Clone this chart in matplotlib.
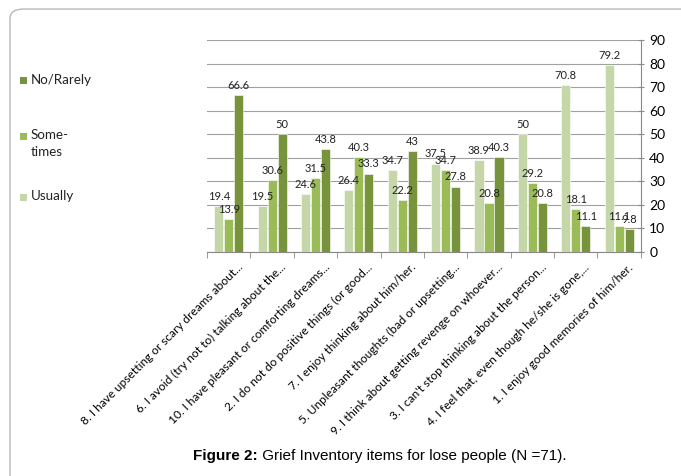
import matplotlib.pyplot as plt
from matplotlib.patches import FancyBboxPatch, Rectangle
from matplotlib.transforms import ScaledTranslation

items = [
    "8. I have upsetting or scary dreams about...",
    "6. I avoid (try not to) talking about the...",
    "10. I have pleasant or comforting dreams...",
    "2. I do not do positive things (or good...",
    "7. I enjoy thinking about him/her.",
    "5. Unpleasant thoughts (bad or upsetting...",
    "9. I think about getting revenge on whoever...",
    "3. I can't stop thinking about the person...",
    "4. I feel that, even though he/she is gone,...",
    "1. I enjoy good memories of him/her.",
]
usually = [19.4, 19.5, 24.6, 26.4, 34.7, 37.5, 38.9, 50, 70.8, 79.2]
sometimes = [13.9, 30.6, 31.5, 40.3, 22.2, 34.7, 20.8, 29.2, 18.1, 11.1]
no_rarely = [66.6, 50, 43.8, 33.3, 43, 27.8, 40.3, 20.8, 11.1, 9.8]

series = [
    ("Usually", usually, "#c5d6a8"),
    ("Some-\ntimes", sometimes, "#9bbb59"),
    ("No/Rarely", no_rarely, "#77933c"),
]

FONT = "Lato"

fig = plt.figure(figsize=(6.81, 4.76), dpi=100)
ax = fig.add_axes([0.304, 0.4706, 0.637, 0.4454])

# outer rounded frame (cut off at right and bottom like the source)
frame = FancyBboxPatch((10 / 681, -0.1), 1.1, 0.981 + 0.1,
                       boxstyle="round,pad=0,rounding_size=0.02",
                       transform=fig.transFigure, fill=False,
                       edgecolor="#b8b8b8", linewidth=1.0)
fig.patches.append(frame)

x = list(range(len(items)))
width = 0.21
offsets = [-0.23, 0.0, 0.23]
for (name, vals, color), off in zip(series, offsets):
    pos = [i + off for i in x]
    ax.bar(pos, vals, width, color=color, edgecolor="white", linewidth=0.4, zorder=3)
    for px, v in zip(pos, vals):
        ax.annotate(f"{v:g}", (px, v), xytext=(0, 3), textcoords="offset points",
                    ha="center", va="bottom", fontsize=8, family=FONT,
                    color="#222222", zorder=4)

ax.set_xlim(-0.5, len(items) - 0.5)
ax.set_ylim(0, 90)
ax.set_yticks(range(0, 91, 10))
ax.yaxis.tick_right()
ax.grid(axis="y", color="#a0a0a0", linewidth=0.8, zorder=0)
ax.tick_params(axis="y", which="both", length=4, direction="inout", color="#888888",
               labelsize=10, pad=4)
for lbl in ax.get_yticklabels():
    lbl.set_family(FONT)

for side in ("top", "left"):
    ax.spines[side].set_visible(False)
ax.spines["right"].set_color("#888888")
ax.spines["bottom"].set_color("#888888")

ax.set_xticks(x)
ax.set_xticks([i - 0.5 for i in range(len(items) + 1)], minor=True)
ax.tick_params(axis="x", which="major", length=0, pad=7)
ax.tick_params(axis="x", which="minor", length=4, color="#888888")
ax.set_xticklabels(items, rotation=45, ha="right", rotation_mode="anchor",
                   fontsize=8.6, family=FONT)
shift = ScaledTranslation(6 / 72, 0, fig.dpi_scale_trans)
for lbl in ax.get_xticklabels():
    lbl.set_transform(lbl.get_transform() + shift)

# legend drawn on the left
legend_rows = [("No/Rarely", "#77933c", 80), ("Some-\ntimes", "#9bbb59", 136), ("Usually", "#c5d6a8", 197)]
for name, color, ypix in legend_rows:
    fig.patches.append(Rectangle((20 / 681, 1 - (ypix + 3.5) / 476), 7 / 681, 7 / 476,
                                 transform=fig.transFigure, facecolor=color, edgecolor="none"))
    fig.text(31 / 681, 1 - (ypix - 6.5) / 476, name, ha="left", va="top",
             fontsize=9.6, family=FONT, color="#222222", linespacing=1.45)

cap_y = 1 - 456 / 476
fig.text(258 / 681, cap_y, "Figure 2:", ha="right", va="center",
         fontsize=11, family="Liberation Sans", weight="bold")
fig.text(258 / 681, cap_y, " Grief Inventory items for lose people (N =71).",
         ha="left", va="center", fontsize=11, family="Liberation Sans")

fig.savefig("out.png", dpi=100)
